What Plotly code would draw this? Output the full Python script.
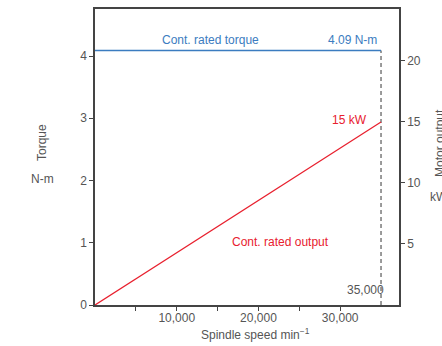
import plotly.graph_objects as go

speed = [0, 35000]
torque = [4.09, 4.09]
output_kw = [0, 15]
rated_speed = 35000
rated_torque = 4.09
rated_output = 15

x_ticks = [10000, 20000, 30000]
x_labels = ["10,000", "20,000", "30,000"]
x_minor = [5000, 15000, 25000]
y_ticks = [0, 1, 2, 3, 4]
y2_ticks = [5, 10, 15, 20]

BLUE = "#3b7cc0"
RED = "#e8202e"
GRAY = "#555555"
FONT = "Liberation Sans, Arial, sans-serif"

fig = go.Figure()
fig.add_trace(go.Scatter(x=[rated_speed, rated_speed], y=[0, rated_torque], mode="lines",
                         line=dict(color="#666666", width=1.3, dash="4px,3px"), showlegend=False,
                         cliponaxis=False))
fig.add_trace(go.Scatter(x=speed, y=torque, mode="lines",
                         line=dict(color=BLUE, width=1.5), showlegend=False))
fig.add_trace(go.Scatter(x=speed, y=output_kw, mode="lines", yaxis="y2",
                         line=dict(color=RED, width=1.3), showlegend=False))

fig.update_layout(
    width=442, height=346,
    margin=dict(l=95, r=43, t=9, b=41, autoexpand=False),
    paper_bgcolor="white", plot_bgcolor="white",
    font=dict(family=FONT, size=12, color=GRAY),
    xaxis=dict(range=[0, 37200], tickvals=x_ticks, ticktext=x_labels, automargin=False,
               ticks="outside", ticklen=4, tickcolor="#444", showgrid=False,
               showline=True, linecolor="#444", linewidth=1.5, mirror=True,
               zeroline=False, tickfont=dict(size=12, color=GRAY), ticklabelstandoff=-3,
               minor=dict(tickvals=x_minor, ticks="outside", ticklen=4, tickcolor="#444")),
    yaxis=dict(range=[0, 4.755], tickvals=y_ticks, ticks="outside", ticklen=4, automargin=False,
               tickcolor="#444", showgrid=False, showline=True, linecolor="#444",
               linewidth=1.5, mirror=True, zeroline=False,
               tickfont=dict(size=12, color=GRAY)),
    yaxis2=dict(range=[0, 24.26], tickvals=y2_ticks, overlaying="y", side="right",
                automargin=False, ticklabelstandoff=0,
                ticks="outside", ticklen=4, tickcolor="#444", showgrid=False,
                showline=True, linecolor="#444", linewidth=1.5, zeroline=False,
                tickfont=dict(size=12, color=GRAY)),
)

ann = [
    dict(x=14080, y=rated_torque, xref="x", yref="y", text="Cont. rated torque",
         font=dict(color=BLUE, size=12), showarrow=False, yanchor="bottom", yshift=1),
    dict(x=rated_speed, y=rated_torque, xref="x", yref="y", text="4.09 N-m",
         font=dict(color=BLUE, size=12), showarrow=False, xanchor="right", yanchor="bottom",
         xshift=-2, yshift=1),
    dict(x=rated_speed, y=rated_output, xref="x", yref="y2", text="15 kW",
         font=dict(color=RED, size=12), showarrow=False, xanchor="right", yanchor="middle",
         xshift=-12, yshift=2),
    dict(x=22650, y=5.16, xref="x", yref="y2", text="Cont. rated output",
         font=dict(color=RED, size=12), showarrow=False),
    dict(x=rated_speed, y=0.24, xref="x", yref="y", text="35,000",
         font=dict(color=GRAY, size=12), showarrow=False, xanchor="right", xshift=5),
    dict(x=42, y=143, xref="paper", yref="paper", text="Torque", textangle=-90,
         font=dict(color=GRAY, size=12), showarrow=False),
    dict(x=42, y=179, xref="paper", yref="paper", text="N-m",
         font=dict(color=GRAY, size=12), showarrow=False),
    dict(x=440, y=143, xref="paper", yref="paper", text="Motor output", textangle=-90,
         font=dict(color=GRAY, size=12), showarrow=False),
    dict(x=428, y=197, xref="paper", yref="paper", text="kW", xanchor="left",
         font=dict(color=GRAY, size=12), showarrow=False),
    dict(x=255, y=334, xref="paper", yref="paper", text="Spindle speed min<sup>−1</sup>",
         font=dict(color=GRAY, size=12), showarrow=False),
]
# convert pixel-based paper annotations to paper fractions
pw, ph = 442 - 95 - 43, 346 - 9 - 41
for a in ann:
    if a["xref"] == "paper":
        a["x"] = (a["x"] - 95) / pw
        a["y"] = (305 - a["y"]) / ph
        a.setdefault("xanchor", "center")
        a["yanchor"] = "middle"
fig.update_layout(annotations=ann)

fig.write_html("out.html", config={"displayModeBar": False},
               post_script="document.body.style.margin='0';document.body.style.padding='0';")
